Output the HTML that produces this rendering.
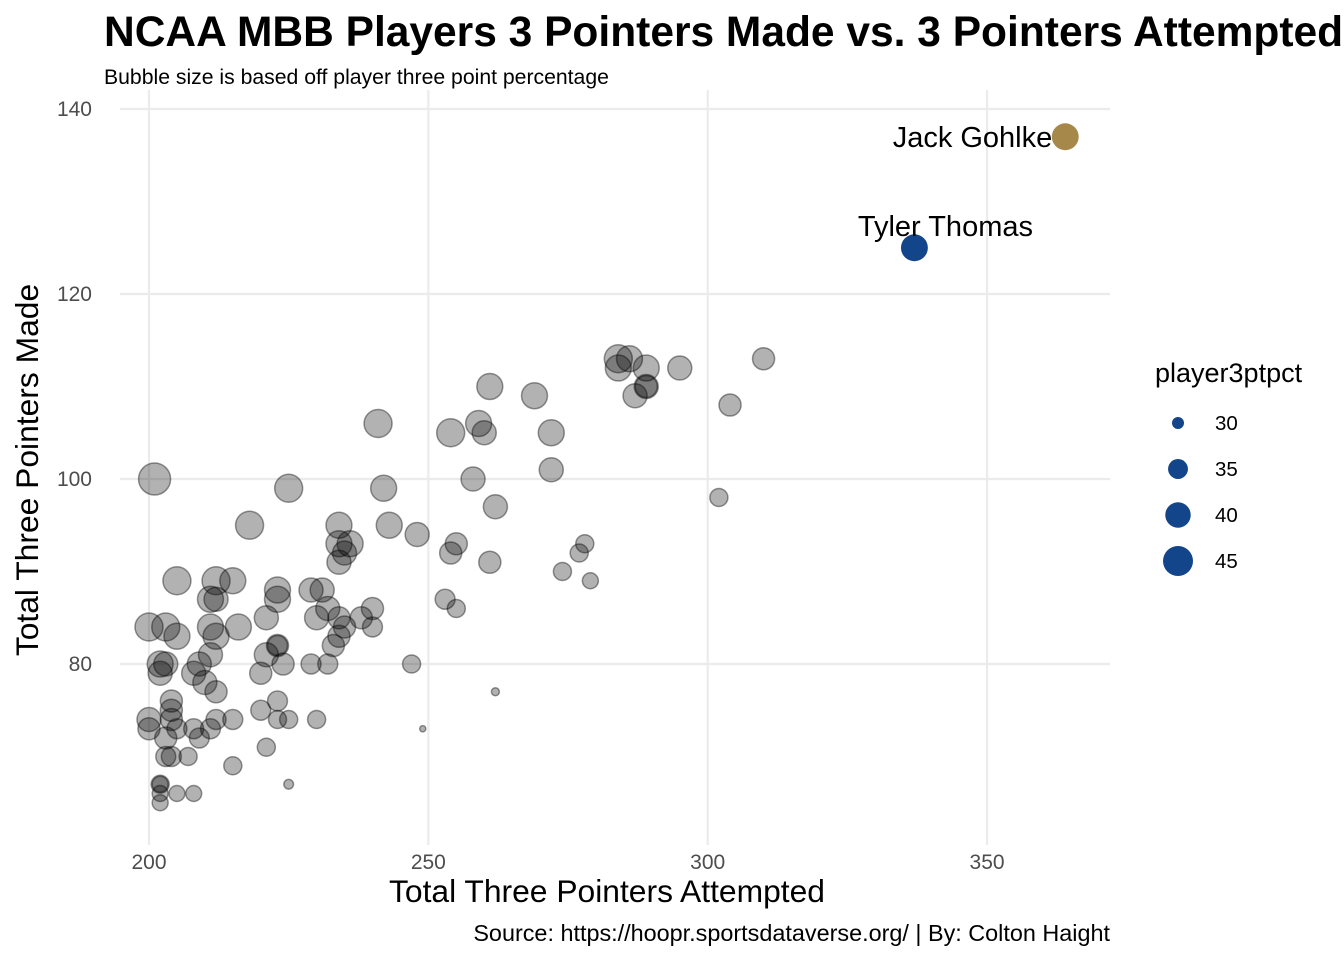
<!DOCTYPE html>
<html><head><meta charset="utf-8"><style>
body{margin:0;background:#fff;font-family:"Liberation Sans",Arial,sans-serif;}
svg text{font-family:"Liberation Sans",Arial,sans-serif;}
</style></head><body>
<svg id="chart" width="1344" height="960" viewBox="0 0 1344 960">
<text x="104" y="46" font-size="42.5" font-weight="bold" fill="#000">NCAA MBB Players 3 Pointers Made vs. 3 Pointers Attempted</text>
<text x="104" y="84" font-size="21.2" fill="#000">Bubble size is based off player three point percentage</text>
<g id="grid"></g>
<g id="xticks"></g>
<g id="yticks"></g>
<g id="points"></g>
<g id="highlights"></g>
<text x="607" y="902" font-size="31.8" text-anchor="middle" fill="#000">Total Three Pointers Attempted</text>
<text transform="translate(38,470) rotate(-90)" font-size="31.8" text-anchor="middle" fill="#000">Total Three Pointers Made</text>
<text x="1110" y="941" font-size="23.4" text-anchor="end" fill="#000">Source: https://hoopr.sportsdataverse.org/ | By: Colton Haight</text>
<g id="legend">
<text x="1155" y="382" font-size="27" fill="#000">player3ptpct</text>
</g>
</svg>
<script>
const xTicks=[200,250,300,350];
const yTicks=[80,100,120,140];
const attempted=[201,225,218,241,242,243,234,234,235,236,234,248,254,259,260,261,258,262,269,272,272,255,254,261,284,286,284,289,287,289,289,295,310,304,302,278,277,274,279,253,255,247,262,249,225,
200,203,205,205,212,215,211,212,211,212,216,202,203,202,208,209,211,210,212,223,223,221,223,223,221,224,220,229,231,230,232,234,233,235,234,238,240,240,229,232,
200,200,204,204,204,203,205,203,204,207,208,209,211,212,215,220,223,223,225,230,221,215,202,202,202,205,202,208];
const made=[100,99,95,106,99,95,95,93,92,93,91,94,105,106,105,110,100,97,109,105,101,93,92,91,113,113,112,112,109,110,110,112,113,108,98,93,92,90,89,87,86,80,77,73,67,
84,84,83,89,89,89,87,87,84,83,84,80,80,79,79,80,81,78,77,88,87,85,82,82,81,80,79,88,88,85,86,85,82,84,83,85,86,84,80,80,
74,73,76,75,74,72,73,70,70,70,73,72,73,74,74,75,76,74,74,74,71,69,67,67,66,66,65,66];
const pct=[47.5,42.7,42.7,42.7,40.5,40.5,40.5,40.5,38.6,40.5,38.6,38.6,42.7,40.5,38.6,40.5,38.6,38.6,40.5,40.5,38.6,36.8,36.8,36.8,42.7,40.5,40.5,40.5,38.6,38.6,36.8,38.6,36.8,36.8,33.6,33.6,33.6,33.6,32.2,35,33.6,33.6,28.4,27.9,29,
42.7,42.7,40.5,42.7,42.7,40.5,40.5,38.6,40.5,40.5,40.5,40.5,38.6,38.6,38.6,38.6,38.6,38.6,36.8,40.5,40.5,38.6,36.8,35,38.6,36.8,36.8,38.6,38.6,38.6,38.6,36.8,36.8,36.8,36.8,36.8,36.8,35,35,35,
38.6,36.8,36.8,36.8,36.8,36.8,35,35,35,33.6,35,35,35,35,35,35,35,33.6,33.6,33.6,33.6,33.6,33.6,32.2,32.2,32.2,32.2,32.2];
const hlNames=["Jack Gohlke","Tyler Thomas"];
const hlAtt=[364,337];
const hlMade=[137,125];
const hlPct=[41.5,41.5];
const hlColors=["#A6894A","#13458A"];
const legendVals=[30,35,40,45];

const X=v=>149+(v-200)*5.587;
const Y=v=>664-(v-80)*9.25;
const R=v=>Math.sqrt(Math.max(6,12.6*v-342));
const NS="http://www.w3.org/2000/svg";
function mk(tag,attrs,parent){const e=document.createElementNS(NS,tag);for(const k in attrs)e.setAttribute(k,attrs[k]);parent.appendChild(e);return e;}
const grid=document.getElementById('grid');
xTicks.forEach(t=>{
  const l=mk('line',{x1:X(t),x2:X(t),y1:90,y2:845,stroke:'#ebebeb','stroke-width':2.2},grid);
  
  
  const tx=mk('text',{x:X(t),y:869,'font-size':21,'text-anchor':'middle',fill:'#4d4d4d'},document.getElementById('xticks'));
  tx.textContent=t;
  
  
});
yTicks.forEach(t=>{
  const l=mk('line',{x1:120,x2:1110,y1:Y(t),y2:Y(t),stroke:'#ebebeb','stroke-width':2.2},grid);
  
  
  const tx=mk('text',{x:92,y:Y(t)+7,'font-size':21,'text-anchor':'end',fill:'#4d4d4d'},document.getElementById('yticks'));
  tx.textContent=t;
  
  
});
const pg=document.getElementById('points');
attempted.forEach((a,i)=>{
  const c=mk('circle',{cx:X(a),cy:Y(made[i]),r:R(pct[i]),fill:'rgba(0,0,0,0.3)',stroke:'rgba(0,0,0,0.4)','stroke-width':1.5},pg);
  
  
});
const hg=document.getElementById('highlights');
hlNames.forEach((n,i)=>{
  const c=mk('circle',{cx:X(hlAtt[i]),cy:Y(hlMade[i]),r:R(hlPct[i]),fill:hlColors[i]},hg);
  
  
  const t=i===0?mk('text',{x:X(hlAtt[i])-13,y:Y(hlMade[i])+10,'font-size':29,'text-anchor':'end',fill:'#000'},hg)
               :mk('text',{x:X(hlAtt[i])+31,y:Y(hlMade[i])-12,'font-size':29,'text-anchor':'middle',fill:'#000'},hg);
  t.textContent=n;
  
  
});
const lg=document.getElementById('legend');
legendVals.forEach((v,i)=>{
  const cy=423+i*46;
  const c=mk('circle',{cx:1178,cy:cy,r:R(v),fill:'#13458A'},lg);
  
  
  const t=mk('text',{x:1215,y:cy+7,'font-size':20.5,fill:'#000'},lg);
  t.textContent=v;
  
  
});
</script>
</body></html>
